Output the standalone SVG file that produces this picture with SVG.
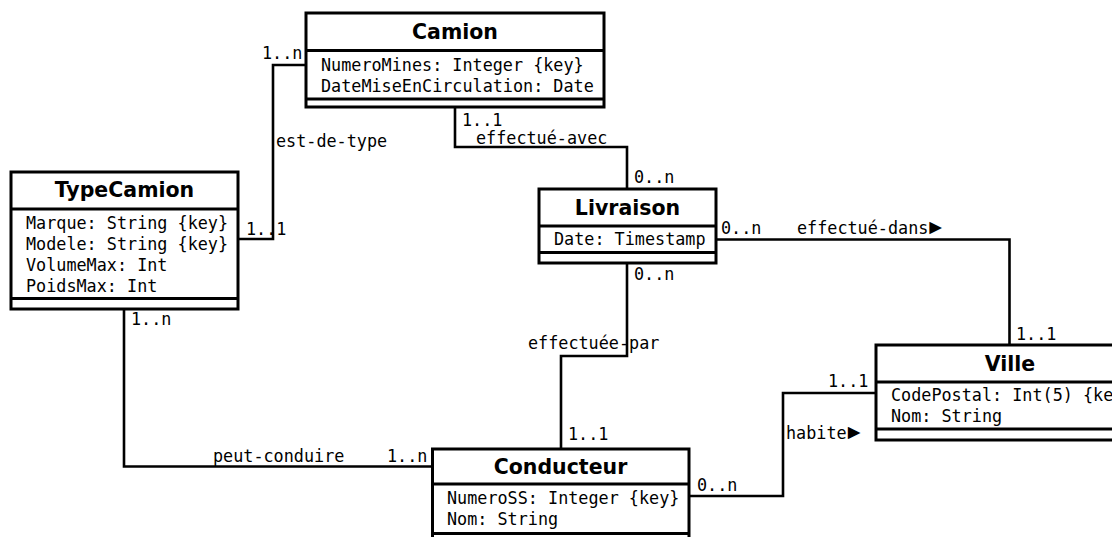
<svg xmlns="http://www.w3.org/2000/svg" width="1112" height="537" viewBox="0 0 1112 537">
  <style>
    .box { fill: #fff; stroke: #000; stroke-width: 3; }
    .sep { stroke: #000; stroke-width: 3; }
    .conn { fill: none; stroke: #000; stroke-width: 2.6; }
    .title { font-family: "DejaVu Sans", sans-serif; font-weight: bold; font-size: 20.5px; text-anchor: middle; fill: #000; }
    .attr, .lbl { font-family: "DejaVu Sans Mono", monospace; font-size: 16.8px; fill: #000; }
    .dir { font-family: "Liberation Sans", sans-serif; font-size: 21px; }
  </style>
  <rect width="1112" height="537" fill="#fff"/>

  <!-- associations -->
  <g id="connectors">
    <path class="conn" d="M306,65 H273 V239 H238"/>
    <path class="conn" d="M455,107 V147 H627 V189"/>
    <path class="conn" d="M716,239.5 H1009.5 V345"/>
    <path class="conn" d="M627,263 V356 H561 V449"/>
    <path class="conn" d="M124,309 V466.5 H432"/>
    <path class="conn" d="M689,496 H783 V393 H876"/>

    <text class="lbl" x="262" y="59">1..n</text>
    <text class="lbl" x="246" y="235">1..1</text>
    <text class="lbl" x="276" y="147">est-de-type</text>

    <text class="lbl" x="462" y="126">1..1</text>
    <text class="lbl" x="476" y="144">effectué-avec</text>
    <text class="lbl" x="634" y="183">0..n</text>

    <text class="lbl" x="721" y="234">0..n</text>
    <text class="lbl" x="797" y="234">effectué-dans<tspan class="dir" dx="-3">►</tspan></text>
    <text class="lbl" x="1016" y="340">1..1</text>

    <text class="lbl" x="634" y="280">0..n</text>
    <text class="lbl" x="528" y="349">effectuée-par</text>
    <text class="lbl" x="568" y="440">1..1</text>

    <text class="lbl" x="131" y="325">1..n</text>
    <text class="lbl" x="213" y="462">peut-conduire</text>
    <text class="lbl" x="387" y="462">1..n</text>

    <text class="lbl" x="697" y="491">0..n</text>
    <text class="lbl" x="786" y="439">habite<tspan class="dir" dx="-3">►</tspan></text>
    <text class="lbl" x="828" y="387">1..1</text>
  </g>

  <g id="Camion">
    <rect class="box" x="306" y="13" width="298" height="94"/>
    <line class="sep" x1="306" y1="50.5" x2="604" y2="50.5"/>
    <line class="sep" x1="306" y1="99" x2="604" y2="99"/>
    <text class="title" x="455" y="39">Camion</text>
    <text class="attr" x="321" y="71">NumeroMines: Integer {key}</text>
    <text class="attr" x="321" y="92">DateMiseEnCirculation: Date</text>
  </g>

  <g id="TypeCamion">
    <rect class="box" x="11" y="172" width="227" height="137"/>
    <line class="sep" x1="11" y1="209" x2="238" y2="209"/>
    <line class="sep" x1="11" y1="298.5" x2="238" y2="298.5"/>
    <text class="title" x="124.5" y="197">TypeCamion</text>
    <text class="attr" x="26" y="229">Marque: String {key}</text>
    <text class="attr" x="26" y="250">Modele: String {key}</text>
    <text class="attr" x="26" y="271">VolumeMax: Int</text>
    <text class="attr" x="26" y="292">PoidsMax: Int</text>
  </g>

  <g id="Livraison">
    <rect class="box" x="539" y="189" width="177" height="74"/>
    <line class="sep" x1="539" y1="226" x2="716" y2="226"/>
    <line class="sep" x1="539" y1="252.5" x2="716" y2="252.5"/>
    <text class="title" x="627.5" y="215">Livraison</text>
    <text class="attr" x="554" y="245">Date: Timestamp</text>
  </g>

  <g id="Ville">
    <rect class="box" x="876" y="345" width="268" height="95"/>
    <line class="sep" x1="876" y1="382" x2="1144" y2="382"/>
    <line class="sep" x1="876" y1="429" x2="1144" y2="429"/>
    <text class="title" x="1010" y="371">Ville</text>
    <text class="attr" x="891" y="401">CodePostal: Int(5) {key}</text>
    <text class="attr" x="891" y="422">Nom: String</text>
  </g>

  <g id="Conducteur">
    <rect class="box" x="432.5" y="449" width="256.5" height="100"/>
    <line class="sep" x1="432.5" y1="484" x2="689" y2="484"/>
    <line class="sep" x1="432.5" y1="533.5" x2="689" y2="533.5"/>
    <text class="title" x="560.5" y="474">Conducteur</text>
    <text class="attr" x="447" y="504">NumeroSS: Integer {key}</text>
    <text class="attr" x="447" y="525">Nom: String</text>
  </g>
</svg>
